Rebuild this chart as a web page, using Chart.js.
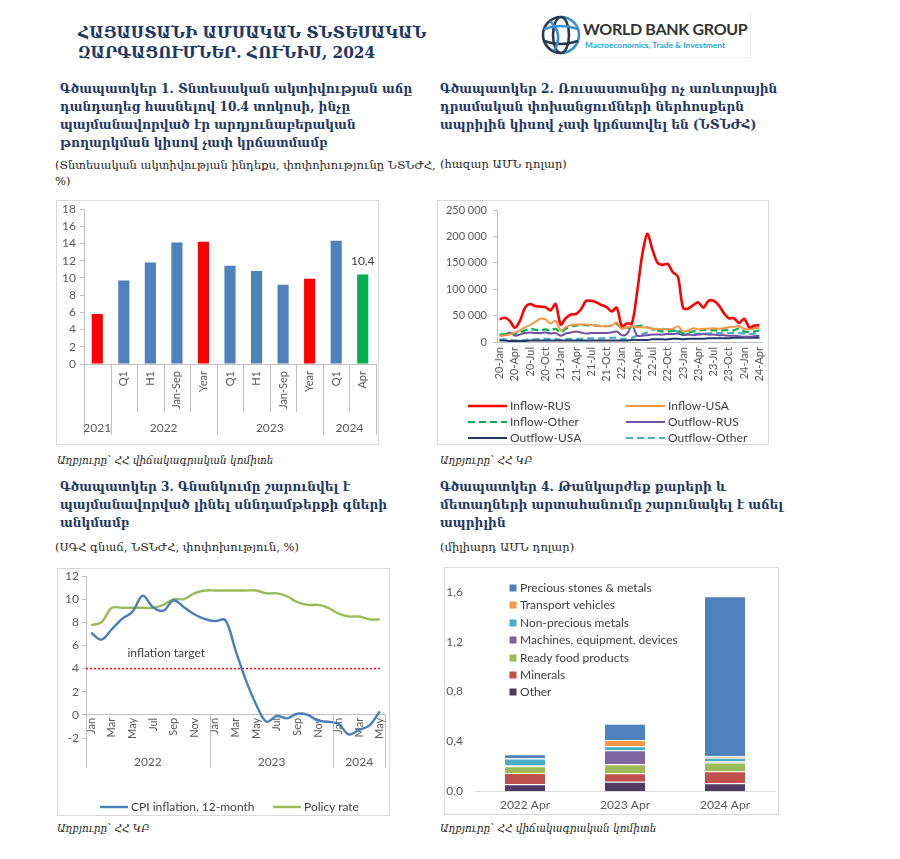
<!DOCTYPE html>
<html>
<head>
<meta charset="utf-8">
<script src="https://cdn.jsdelivr.net/npm/chart.js@4.4.1/dist/chart.umd.min.js"></script>
<style>
  body { margin: 0; background: #fff; width: 900px; height: 859px; position: relative; overflow: hidden; font-family: "DejaVu Serif", serif; }
  .abs { position: absolute; }
  .title { left: 78px; top: 22px; font-family: "DejaVu Serif Condensed", "DejaVu Serif", serif; font-stretch: condensed; font-size: 17px; font-weight: bold; color: #1f3864; line-height: 20px; white-space: nowrap; }
  .head { font-family: "DejaVu Serif Condensed", "DejaVu Serif", serif; font-stretch: condensed; font-size: 13.5px; font-weight: bold; color: #1f3864; line-height: 18px; white-space: nowrap; }
  .sub { font-size: 11.5px; color: #262626; line-height: 16px; white-space: nowrap; }
  .src { font-size: 10.5px; font-style: italic; color: #262626; white-space: nowrap; }
  .frame { position: absolute; left: 0; top: 0; right: 0; bottom: 0; border: 1px solid #d9d9d9; }
  canvas { position: absolute; left: 0; top: 0; }
  .leg { position: absolute; font-family: Lato, sans-serif; font-size: 12px; color: #404040; white-space: nowrap; line-height: 14px; }
  .leg svg, .leg span { vertical-align: middle; }
</style>
</head>
<body>

<div class="abs title">ՀԱՅԱՍՏԱՆԻ ԱՄՍԱԿԱՆ ՏՆՏԵՍԱԿԱՆ<br>ԶԱՐԳԱՑՈՒՄՆԵՐ. ՀՈՒՆԻՍ, 2024</div>

<div class="abs" style="left:538px;top:13px;width:212px;height:44px;border-right:1px solid #eee;border-bottom:1px solid #eee;">
  <svg class="abs" style="left:2px;top:1px" width="42" height="42" viewBox="0 0 42 42">
    <g fill="none" stroke-width="2.6">
      <path d="M21 3 A18 18 0 0 0 21 39" stroke="#2b3a4b"/>
      <path d="M21 3 A18 18 0 0 1 21 39" stroke="#3a8fcf"/>
      <ellipse cx="21" cy="21" rx="8" ry="18" stroke="#2b3a4b"/>
      <path d="M4 15 Q21 9 38 15" stroke="#3a8fcf"/>
      <path d="M4 27 Q21 33 38 27" stroke="#2b3a4b"/>
      <path d="M10 7 Q24 20 14 37" stroke="#3a8fcf"/>
    </g>
  </svg>
  <div class="abs" style="left:45px;top:6px;font:bold 16px Lato,sans-serif;color:#333;white-space:nowrap;letter-spacing:-0.3px;">WORLD BANK GROUP</div>
  <div class="abs" style="left:47px;top:27px;font:bold 8.4px Lato,sans-serif;color:#22a3d8;white-space:nowrap;">Macroeconomics, Trade &amp; Investment</div>
</div>

<div class="abs head" style="left:60px;top:79px;">Գծապատկեր 1. Տնտեսական ակտիվության  աճը<br>դանդաղեց հասնելով 10.4 տոկոսի, ինչը<br>պայմանավորված էր արդյունաբերական<br>թողարկման կիսով չափ կրճատմամբ</div>
<div class="abs sub" style="left:55px;top:157px;">(Տնտեսական ակտիվության ինդեքս, փոփոխությունը ՆՏՆԺՀ,<br>%)</div>

<div class="abs head" style="left:440px;top:79px;">Գծապատկեր 2. Ռուսաստանից ոչ առևտրային<br>դրամական փոխանցումների ներհոսքերն<br>ապրիլին կիսով չափ կրճատվել են (ՆՏՆԺՀ)</div>
<div class="abs sub" style="left:440px;top:156px;">(հազար ԱՄՆ դոլար)</div>

<div class="abs head" style="left:60px;top:477px;">Գծապատկեր 3. Գնանկումը շարունվել է<br>պայմանավորված լինել սննդամթերքի գների<br>անկմամբ</div>
<div class="abs sub" style="left:55px;top:539px;">(ՍԳՀ գնաճ,  ՆՏՆԺՀ, փոփոխություն, %)</div>

<div class="abs head" style="left:440px;top:477px;">Գծապատկեր 4. Թանկարժեք քարերի և<br>մետաղների արտահանումը շարունակել է աճել<br>ապրիլին</div>
<div class="abs sub" style="left:440px;top:539px;">(միլիարդ ԱՄՆ դոլար)</div>

<div class="abs" style="left:56px;top:200px;width:323px;height:245px;"><div class="frame"></div><canvas id="c1" width="323" height="245"></canvas></div>
<div class="abs" style="left:437px;top:200px;width:332px;height:245px;"><div class="frame"></div><canvas id="c2" width="332" height="245"></canvas></div>
<div class="abs" style="left:57px;top:568px;width:333px;height:248px;"><div class="frame"></div><canvas id="c3" width="333" height="248"></canvas></div>
<div class="abs" style="left:444px;top:567px;width:335px;height:248px;"><div class="frame"></div><canvas id="c4" width="335" height="248"></canvas></div>

<div class="abs src" style="left:57px;top:454px;">Աղբյուրը՝ ՀՀ վիճակագրական կոմիտե</div>
<div class="abs src" style="left:440px;top:454px;">Աղբյուրը՝ ՀՀ ԿԲ</div>
<div class="abs src" style="left:57px;top:822px;">Աղբյուրը՝ ՀՀ ԿԲ</div>
<div class="abs src" style="left:440px;top:822px;">Աղբյուրը՝ ՀՀ վիճակագրական կոմիտե</div>

<div id="legends"></div>

<script>
// ---- chart 1: economic activity index, % y/y
const c1Labels = ['', 'Q1', 'H1', 'Jan-Sep', 'Year', 'Q1', 'H1', 'Jan-Sep', 'Year', 'Q1', 'Apr'];
const c1Growth = [5.8, 9.7, 11.8, 14.1, 14.2, 11.4, 10.8, 9.2, 9.9, 14.3, 10.4];
const c1Kind = ['year', 'part', 'part', 'part', 'year', 'part', 'part', 'part', 'year', 'part', 'last'];
const c1Years = ['2021', '2022', '2023', '2024'];
const c1YearCount = [1, 4, 4, 2];

// ---- chart 2: money transfers, thousand USD
const c2Months = [
  '20-Jan', '20-Feb', '20-Mar', '20-Apr', '20-May', '20-Jun', '20-Jul', '20-Aug', '20-Sep', '20-Oct', '20-Nov', '20-Dec',
  '21-Jan', '21-Feb', '21-Mar', '21-Apr', '21-May', '21-Jun', '21-Jul', '21-Aug', '21-Sep', '21-Oct', '21-Nov', '21-Dec',
  '22-Jan', '22-Feb', '22-Mar', '22-Apr', '22-May', '22-Jun', '22-Jul', '22-Aug', '22-Sep', '22-Oct', '22-Nov', '22-Dec',
  '23-Jan', '23-Feb', '23-Mar', '23-Apr', '23-May', '23-Jun', '23-Jul', '23-Aug', '23-Sep', '23-Oct', '23-Nov', '23-Dec',
  '24-Jan', '24-Feb', '24-Mar', '24-Apr'
];
const c2Series = ['Inflow-RUS', 'Inflow-USA', 'Inflow-Other', 'Outflow-RUS', 'Outflow-USA', 'Outflow-Other'];
const inflowRus = [
  43000, 46000, 40000, 27000, 40000, 65000, 72000, 68000, 67000, 66000, 60000, 72000,
  33000, 45000, 52000, 53000, 62000, 78000, 78000, 75000, 70000, 66000, 58000, 65000,
  30000, 35000, 36000, 95000, 165000, 205000, 175000, 150000, 146000, 148000, 132000, 124000,
  65000, 63000, 70000, 75000, 65000, 78000, 78000, 70000, 55000, 45000, 45000, 36000,
  44000, 28000, 31000, 32000
];
const inflowUsa = [
  12000, 13000, 14000, 18000, 22000, 28000, 32000, 38000, 44000, 43000, 35000, 40000,
  22000, 28000, 32000, 33000, 33000, 33000, 32000, 31000, 30000, 30000, 31000, 37000,
  25000, 28000, 30000, 28000, 28000, 27000, 25000, 24000, 24000, 24000, 25000, 30000,
  20000, 22000, 26000, 24000, 25000, 25000, 26000, 25000, 26000, 28000, 29000, 30000,
  25000, 24000, 26000, 27000
];
const inflowOther = [
  14000, 15000, 17000, 15000, 18000, 22000, 25000, 23000, 22000, 24000, 22000, 25000,
  18000, 25000, 30000, 31000, 32000, 32000, 31000, 31000, 30000, 30000, 31000, 34000,
  26000, 27000, 28000, 30000, 31000, 28000, 25000, 22000, 20000, 20000, 21000, 22000,
  16000, 18000, 20000, 22000, 23000, 23000, 22000, 22000, 22000, 23000, 22000, 26000,
  20000, 19000, 20000, 22000
];
const outflowRus = [
  12000, 13000, 18000, 12000, 14000, 17000, 18000, 17000, 17000, 18000, 16000, 17000,
  12000, 16000, 18000, 20000, 18000, 16000, 17000, 17000, 17000, 17000, 18000, 20000,
  13000, 15000, 32000, 12000, 12000, 13000, 14000, 14000, 14000, 15000, 15000, 16000,
  13000, 14000, 13000, 14000, 15000, 14000, 14000, 13000, 13000, 12000, 12000, 11000,
  10000, 10000, 11000, 12000
];
const outflowUsa = [
  3000, 3000, 2000, 2000, 2000, 2000, 3000, 3000, 3000, 3000, 3000, 3000,
  3000, 3000, 3000, 3000, 3000, 3000, 3000, 3000, 3000, 3000, 3000, 3000,
  3000, 3000, 4000, 4000, 4000, 4000, 5000, 5000, 5000, 5000, 6000, 6000,
  5000, 6000, 6000, 6000, 6000, 7000, 7000, 7000, 7000, 7000, 8000, 8000,
  8000, 8000, 8000, 8000
];
const outflowOther = [
  5000, 5000, 4000, 3000, 3000, 4000, 5000, 5000, 6000, 6000, 6000, 6000,
  4000, 5000, 6000, 6000, 6000, 7000, 7000, 7000, 7000, 8000, 8000, 8000,
  6000, 6000, 8000, 12000, 15000, 18000, 23000, 25000, 25000, 24000, 22000, 20000,
  14000, 15000, 15000, 16000, 16000, 16000, 17000, 17000, 17000, 17000, 17000, 17000,
  16000, 15000, 16000, 17000
];

// ---- chart 3: CPI inflation and policy rate, %
const c3Months = [
  'Jan', 'Feb', 'Mar', 'Apr', 'May', 'Jun', 'Jul', 'Aug', 'Sep', 'Oct', 'Nov', 'Dec',
  'Jan', 'Feb', 'Mar', 'Apr', 'May', 'Jun', 'Jul', 'Aug', 'Sep', 'Oct', 'Nov', 'Dec',
  'Jan', 'Feb', 'Mar', 'Apr', 'May'
];
const c3Years = ['2022', '2023', '2024'];
const c3YearCount = [12, 12, 5];
const c3Series = ['CPI inflation, 12-month', 'Policy rate'];
const cpiInflation = [
  7.1, 6.5, 7.4, 8.3, 8.9, 10.3, 9.3, 9.0, 9.9, 9.3, 8.7, 8.3,
  8.1, 8.2, 5.6, 3.0, 0.9, -0.6, -0.1, -0.3, 0.1, 0.0, -0.5, -0.6,
  -0.8, -1.7, -1.3, -0.9, 0.3
];
const policyRate = [
  7.75, 8.0, 9.25, 9.25, 9.25, 9.25, 9.25, 9.5, 10.0, 10.0, 10.5, 10.75,
  10.75, 10.75, 10.75, 10.75, 10.75, 10.5, 10.5, 10.25, 9.75, 9.5, 9.5, 9.25,
  8.75, 8.5, 8.5, 8.25, 8.25
];
const inflationTarget = 4;

// ---- chart 4: exports by group, billion USD (stack order bottom -> top)
const c4Categories = ['2022 Apr', '2023 Apr', '2024 Apr'];
const c4Groups = ['Other', 'Minerals', 'Ready food products', 'Machines, equipment, devices', 'Non-precious metals', 'Transport  vehicles', 'Precious stones & metals'];
const exOther = [0.054, 0.075, 0.062];
const exMinerals = [0.091, 0.067, 0.097];
const exFood = [0.054, 0.072, 0.070];
const exMachines = [0.008, 0.113, 0.008];
const exNonPrecious = [0.054, 0.032, 0.030];
const exTransport = [0.005, 0.051, 0.013];
const exPrecious = [0.030, 0.131, 1.285];
const c4Ticks = [0, 0.4, 0.8, 1.2, 1.6];

Chart.defaults.font.family = 'Lato, "DejaVu Sans", sans-serif';
Chart.defaults.color = '#595959';
Chart.defaults.animation = false;
Chart.defaults.responsive = false;
Chart.defaults.plugins.legend.display = false;
Chart.defaults.plugins.tooltip.enabled = false;

const axisGray = '#bfbfbf';

// keep the plot area exactly where the layout padding puts it
function noEdgePad(s) {
  s.paddingTop = 0; s.paddingBottom = 0; s.paddingLeft = 0; s.paddingRight = 0;
}

// multi-level category axis: separators + year row
function groupAxis(cfg) {
  return {
    id: 'groupAxis',
    afterDraw(chart) {
      const { ctx, scales: { x, y } } = chart;
      const half = (x.getPixelForValue(1) - x.getPixelForValue(0)) / 2;
      const top = cfg.fromValue != null ? y.getPixelForValue(cfg.fromValue) : chart.chartArea.bottom;
      const line = (px, bottom) => {
        ctx.beginPath();
        ctx.moveTo(Math.round(px) + 0.5, top);
        ctx.lineTo(Math.round(px) + 0.5, bottom);
        ctx.stroke();
      };
      ctx.save();
      ctx.strokeStyle = axisGray;
      ctx.lineWidth = 1;
      ctx.font = '12px Lato';
      ctx.fillStyle = '#595959';
      ctx.textAlign = 'center';
      ctx.textBaseline = 'middle';
      let start = 0;
      cfg.names.forEach((name, gi) => {
        const n = cfg.counts[gi];
        const left = x.getPixelForValue(start) - half;
        const right = x.getPixelForValue(start + n - 1) + half;
        line(left, cfg.longBottom);
        if (cfg.shortBottom) {
          for (let i = 1; i < n; i++) line(x.getPixelForValue(start + i) - half, cfg.shortBottom);
        }
        ctx.fillText(name, (left + right) / 2, cfg.labelY);
        start += n;
      });
      line(x.getPixelForValue(start - 1) + half, cfg.longBottom);
      ctx.restore();
    }
  };
}

// chart 1
const kindColor = { year: '#ff0000', part: '#4f81bd', last: '#00b050' };
new Chart(document.getElementById('c1'), {
  type: 'bar',
  data: {
    labels: c1Labels,
    datasets: [{
      data: c1Growth,
      backgroundColor: c1Kind.map(k => kindColor[k]),
      barPercentage: 0.42,
      categoryPercentage: 1
    }]
  },
  options: {
    layout: { padding: { top: 9, right: 3, left: 0, bottom: 0 }, autoPadding: false },
    scales: {
      x: {
        grid: { display: false, drawTicks: false },
        border: { color: axisGray },
        ticks: { autoSkip: false, minRotation: 90, maxRotation: 90, padding: 7, font: { size: 11 } },
        afterFit(s) { s.height = 81; noEdgePad(s); }
      },
      y: {
        min: 0, max: 18,
        ticks: { stepSize: 2, autoSkip: false, padding: 4, font: { size: 12 } },
        grid: { drawOnChartArea: false, tickLength: 4, color: axisGray },
        border: { color: axisGray },
        afterFit(s) { s.width = 28; noEdgePad(s); }
      }
    }
  },
  plugins: [
    groupAxis({ names: c1Years, counts: c1YearCount, shortBottom: 212, longBottom: 235, labelY: 228 }),
    {
      id: 'lastValue',
      afterDatasetsDraw(chart) {
        const { ctx } = chart;
        const i = c1Growth.length - 1;
        const bar = chart.getDatasetMeta(0).data[i];
        ctx.save();
        ctx.font = '12px Lato';
        ctx.fillStyle = '#404040';
        ctx.textAlign = 'center';
        ctx.textBaseline = 'bottom';
        ctx.fillText(c1Growth[i].toFixed(1).replace('.', ','), bar.x, bar.y - 7);
        ctx.restore();
      }
    }
  ]
});

// chart 2
const c2Style = [
  { color: '#ff0000', width: 2.6, dash: [] },
  { color: '#f79646', width: 2, dash: [] },
  { color: '#00b050', width: 2.2, dash: [7, 4] },
  { color: '#7050a0', width: 2, dash: [] },
  { color: '#1f3864', width: 2, dash: [] },
  { color: '#4bacc6', width: 2.2, dash: [7, 4] }
];
const c2Data = [inflowRus, inflowUsa, inflowOther, outflowRus, outflowUsa, outflowOther];
new Chart(document.getElementById('c2'), {
  type: 'line',
  data: {
    labels: c2Months,
    datasets: c2Series.map((name, i) => ({
      label: name,
      data: c2Data[i],
      borderColor: c2Style[i].color,
      borderWidth: c2Style[i].width,
      borderDash: c2Style[i].dash,
      pointRadius: 0,
      tension: 0.3,
      fill: false
    }))
  },
  options: {
    layout: { padding: { top: 10, right: 7, left: 0, bottom: 0 }, autoPadding: false },
    scales: {
      x: {
        offset: true,
        grid: { display: false, drawTicks: false },
        border: { color: axisGray },
        ticks: {
          autoSkip: false, minRotation: 90, maxRotation: 90, padding: 5, font: { size: 11 },
          callback: (v, i) => (i % 3 === 0 ? c2Months[i] : '')
        },
        afterFit(s) { s.height = 103; noEdgePad(s); }
      },
      y: {
        min: 0, max: 250000,
        ticks: {
          stepSize: 50000, autoSkip: false, padding: 6, font: { size: 11 },
          callback: v => String(v).replace(/\B(?=(\d{3})+(?!\d))/g, ' ')
        },
        grid: { drawOnChartArea: false, tickLength: 4, color: axisGray },
        border: { color: axisGray },
        afterFit(s) { s.width = 60; noEdgePad(s); }
      }
    }
  }
});

// chart 3
const c3Style = [{ color: '#4a7ebb' }, { color: '#9bbb59' }];
new Chart(document.getElementById('c3'), {
  type: 'line',
  data: {
    labels: c3Months,
    datasets: [
      { label: c3Series[0], data: cpiInflation, borderColor: c3Style[0].color, borderWidth: 2.4, pointRadius: 0, tension: 0.35 },
      { label: c3Series[1], data: policyRate, borderColor: c3Style[1].color, borderWidth: 2.4, pointRadius: 0, tension: 0.35 }
    ]
  },
  options: {
    layout: { padding: { top: 8, right: 5, left: 0, bottom: 78 }, autoPadding: false },
    scales: {
      x: {
        position: { y: 0 },
        offset: true,
        grid: { display: false, drawTicks: false },
        border: { color: axisGray },
        ticks: {
          autoSkip: false, minRotation: 90, maxRotation: 90, padding: 3, font: { size: 11 },
          callback: (v, i) => (i % 2 === 0 ? c3Months[i] : '')
        },
        afterFit(s) { s.height = 0; noEdgePad(s); }
      },
      y: {
        min: -2, max: 12,
        ticks: { stepSize: 2, autoSkip: false, padding: 3, font: { size: 12 } },
        grid: { drawOnChartArea: false, tickLength: 4, color: axisGray },
        border: { color: axisGray },
        afterFit(s) { s.width = 29; noEdgePad(s); }
      }
    }
  },
  plugins: [
    groupAxis({ names: c3Years, counts: c3YearCount, fromValue: 0, longBottom: 200, labelY: 194 }),
    {
      id: 'target',
      beforeDatasetsDraw(chart) {
        const { ctx, chartArea, scales: { x, y } } = chart;
        const py = y.getPixelForValue(inflationTarget);
        ctx.save();
        ctx.strokeStyle = '#ff0000';
        ctx.lineWidth = 1.5;
        ctx.setLineDash([2, 2]);
        ctx.beginPath();
        ctx.moveTo(chartArea.left, py);
        ctx.lineTo(x.getPixelForValue(c3Months.length - 1), py);
        ctx.stroke();
        ctx.setLineDash([]);
        ctx.font = '12px Lato';
        ctx.fillStyle = '#404040';
        ctx.textBaseline = 'middle';
        ctx.fillText('inflation target', x.getPixelForValue(4) - 5, y.getPixelForValue(inflationTarget + 1.3));
        ctx.restore();
      }
    }
  ]
});

// chart 4
const c4Colors = ['#4f3b62', '#c0504d', '#9bbb59', '#8064a2', '#4bacc6', '#f79646', '#4f81bd'];
const c4Data = [exOther, exMinerals, exFood, exMachines, exNonPrecious, exTransport, exPrecious];
new Chart(document.getElementById('c4'), {
  type: 'bar',
  data: {
    labels: c4Categories,
    datasets: c4Groups.map((name, i) => ({
      label: name,
      data: c4Data[i],
      backgroundColor: c4Colors[i],
      borderColor: 'rgba(255,255,255,0.6)',
      borderWidth: { top: 1 },
      borderSkipped: 'start',
      barPercentage: 0.4,
      categoryPercentage: 1
    }))
  },
  options: {
    layout: { padding: { top: 0, right: 4, left: 0, bottom: 0 }, autoPadding: false },
    scales: {
      x: {
        stacked: true,
        grid: { display: false, drawTicks: false },
        border: { color: '#d9d9d9' },
        ticks: { padding: 7, font: { size: 12 } },
        afterFit(s) { s.height = 24; noEdgePad(s); }
      },
      y: {
        stacked: true,
        min: 0, max: 1.8,
        ticks: { autoSkip: false, padding: 12, font: { size: 12 }, callback: v => v.toFixed(1).replace('.', ',') },
        afterBuildTicks(s) { s.ticks = c4Ticks.map(v => ({ value: v })); },
        grid: { display: false, drawTicks: false },
        border: { display: false },
        afterFit(s) { s.width = 31; noEdgePad(s); }
      }
    }
  }
});

// html legends
function lineSample(color, width, dash) {
  return '<svg width="39" height="8"><line x1="0" y1="4" x2="39" y2="4" stroke="' + color +
    '" stroke-width="' + width + '" stroke-dasharray="' + (dash.length ? dash.join(' ') : 'none') + '"/></svg>';
}
const legends = document.getElementById('legends');
c2Series.forEach((name, i) => {
  const d = document.createElement('div');
  d.className = 'leg';
  d.style.left = (i % 2 === 0 ? 468 : 626) + 'px';
  d.style.top = (398 + Math.floor(i / 2) * 16) + 'px';
  d.innerHTML = lineSample(c2Style[i].color, c2Style[i].width, c2Style[i].dash) + ' <span>' + name + '</span>';
  legends.appendChild(d);
});
[[100, 0], [273, 1]].forEach(([left, i]) => {
  const d = document.createElement('div');
  d.className = 'leg';
  d.style.left = left + 'px';
  d.style.top = '799px';
  d.innerHTML = '<svg width="28" height="8"><line x1="0" y1="4" x2="28" y2="4" stroke="' + c3Style[i].color +
    '" stroke-width="2.4"/></svg> <span>' + c3Series[i] + '</span>';
  legends.appendChild(d);
});
c4Groups.slice().reverse().forEach((name, k) => {
  const i = c4Groups.length - 1 - k;
  const d = document.createElement('div');
  d.className = 'leg';
  d.style.left = '509px';
  d.style.top = (580 + k * 17.4) + 'px';
  d.innerHTML = '<svg width="8" height="8"><rect x="0.5" y="0.5" width="7" height="7" fill="' + c4Colors[i] +
    '"/></svg> <span>' + name + '</span>';
  legends.appendChild(d);
});
</script>
</body>
</html>
